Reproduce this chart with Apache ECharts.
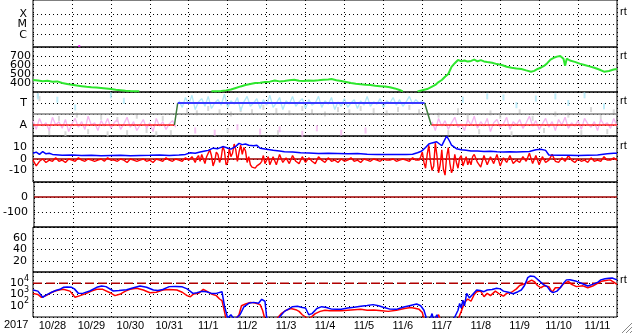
<!DOCTYPE html>
<html><head><meta charset="utf-8">
<script src="https://cdn.jsdelivr.net/npm/echarts@6/dist/echarts.min.js"></script>
<style>html,body{margin:0;padding:0;background:#fff}#c{width:633px;height:334px}</style>
</head><body><div id="c"></div>
<script>
// ---------- DATA (x = hours since 2017-10-28 00:00 UT) ----------
const dayLabels = ['10/28','10/29','10/30','10/31','11/1','11/2','11/3','11/4','11/5','11/6','11/7','11/8','11/9','11/10','11/11'];
const yearLabel = '2017';
const xmcLevels = [1.2, 2.2, 3.2];
const xmcNames = ['C', 'M', 'X'];
const xrayPoints = [[28.5, 0.1]];

// solar wind speed (km/s)
const speedData = [[0,433],[3,428],[6,420],[9,424],[12,415],[15,418],[18,400],[21,390],[24,380],[27,372],[30,365],[33,358],[36,352],[39,350],[42,345],[45,340],[48,333],[51,326],[54,320],[57,314],[60,311],[63,309],[65.5,307],[66,null],
[110,307],[113,309],[116,311],[119,318],[122,328],[125,345],[128,362],[131,378],[134,390],[137,400],[140,404],[143,410],[146,415],[149,428],[152,418],[155,422],[158,430],[161,437],[164,425],[167,422],[170,428],[173,426],[176,430],[179,435],[182,440],[184,444],[187,430],[190,422],[193,412],[196,400],[199,392],[202,385],[205,380],[208,378],[211,370],[214,365],[217,360],[220,352],[223,340],[226,322],[228,307],[229,null],
[237,307],[240,320],[243,333],[246,360],[248,378],[250,410],[252,433],[254,470],[256,500],[258,580],[260,620],[262,656],[264,640],[266,650],[268,638],[270,645],[272,660],[274,640],[276,655],[278,640],[280,633],[283,625],[286,610],[289,600],[292,580],[295,570],[298,562],[301,556],[304,540],[307,526],[309,535],[311,556],[313,570],[315,590],[317,620],[319,660],[321,680],[323,693],[325,700],[326,680],[327,670],[328,590],[329,670],[331,650],[334,635],[337,615],[340,600],[343,585],[346,570],[349,550],[352,526],[355,533],[358,550],[360,556]];

// IMF sector panel (levels: A=1, T=3)
const sectorTimes = [0, 87.2, 89.2, 241.4, 245.5, 360];
const sectorLevels = [1, 1, 3, 3, 1, 1];
const pinkStart1 = 0, pinkStart2 = 246, blueStart = 90, taStep = 2;
const pinkAway1 = [1.4,0.6,1.6,0.9,1.2,0.5,1.7,1.0,1.3,0.7,1.5,0.4,1.1,1.6,0.8,1.3,0.6,1.8,1.0,1.2,0.5,1.4,0.9,1.6,0.7,1.2,1.5,0.6,1.1,1.7,0.8,1.3,0.5,1.0,1.5,0.7,1.2,0.4,1.6,0.9,1.3,0.6,1.1,1.4,0.8];
const pinkAway2 = [1.3,0.5,1.6,0.9,1.4,0.6,1.2,1.7,0.8,1.1,0.5,1.5,1.0,1.8,0.7,1.3,0.9,1.6,0.4,1.2,1.5,0.8,1.1,1.7,0.6,1.3,1.0,1.5,0.7,1.2,1.8,0.9,1.4,0.6,1.1,1.6,0.8,1.3,0.5,1.5,1.0,1.7,0.7,1.2,0.9,1.4,0.6,1.6,1.1,0.8,1.3,0.5,1.5,1.0,1.2,0.7,1.6,0.9];
const blueToward = [3.2,2.6,3.5,2.9,3.7,2.4,3.1,3.4,2.7,3.6,2.5,3.0,3.3,2.8,3.8,2.6,3.2,2.9,3.5,2.3,3.1,3.6,2.7,3.0,3.4,2.5,3.3,2.8,3.7,2.6,3.0,3.5,2.4,3.2,2.9,3.6,2.7,3.1,3.4,2.5,3.3,2.8,3.0,3.6,2.6,3.2,2.9,3.5,2.4,3.1,2.7,3.4,2.6,3.0,3.3,2.5,3.2,2.8,3.6,2.7,3.1,2.9,3.4,2.6,3.2,3.0,3.5,2.8,3.3,2.7,3.1,3.6,2.9,3.3,3.0,3.2];
const grayDots = [[3,3.7],[4,3.4],[10,0.3],[16,1.6],[20,0.2],[27,1.9],[34,0.4],[42,1.7],[46,0.2],[52,1.5],[58,0.3],[64,1.8],[70,0.5],[76,0.2],[80,1.6],[85,0.3],
[95,2.3],[101,2.1],[108,2.5],[115,2.2],[120,0.5],[122,2.0],[128,2.4],[135,2.2],[142,2.6],[150,2.3],[151,0.3],[158,2.1],[166,2.5],[172,2.2],[180,2.0],[188,2.4],[195,2.2],[202,2.5],[210,2.3],[218,2.1],[225,2.4],[232,2.6],[238,2.2],
[250,1.9],[256,0.3],[262,2.3],[268,1.7],[275,0.4],[282,2.1],[288,1.8],[295,0.2],[300,2.2],[308,1.6],[315,0.5],[322,2.0],[330,1.9],[338,0.3],[344,2.4],[350,1.7],[354,0.4],[358,2.2]];
const blueSparse = [[3,3.6],[15,3.3],[26,2.6],[48,3.7],[56,3.2],[265,3.3],[280,3.6],[290,3.5],[298,2.8],[310,3.4],[322,3.6],[330,3.0],[340,3.7],[352,2.7]];
const pinkSparse = [[100,0.5],[112,0.3],[126,0.8],[140,0.4],[152,0.6],[166,0.2],[175,0.7],[190,0.3],[205,0.5]];

// IMF Bt (blue) and Bz (red), nT
const btData = [[0,5],[2,6],[4,4],[6,6.5],[8,4.5],[10,5],[12,4],[14,3.8],[18,3.2],[24,3.5],[30,3],[36,3.3],[42,2.8],[48,3],[54,3.2],[60,2.8],[66,3],[72,3.2],[78,3.5],[84,3],[90,3.4],[94,4],[97,5.5],[100,5],[103,6],[106,7],[108,7.5],[111,9.4],[114,9],[117,10.8],[119,10],[122,8.6],[125,11],[127,13.6],[129,12.5],[131,13],[133,12],[136,11.5],[138,12],[140,9.4],[143,8.6],[146,8],[148,7.6],[152,7],[155,6.4],[160,6],[165,5.5],[170,5.2],[176,4.8],[182,5],[188,4.8],[194,4.5],[200,4.8],[206,4.2],[212,4],[218,3.9],[224,4],[230,3.9],[234,4.2],[237,5.5],[239,6.5],[240.5,8],[242,10],[244,13],[246,14],[248.8,15],[250,16],[252,11.5],[253,14.5],[255,20],[256,19],[257,15],[258,12],[259,11],[261,9],[264,8],[267,7.6],[270,7],[274,6.9],[278,6.5],[282,6.8],[286,6.2],[290,6],[294,6.2],[298,6],[302,6.3],[306,6.5],[310,8],[313,8.5],[316,7.5],[318,3.5],[324,3.2],[330,3.2],[336,3],[342,3.3],[348,3.5],[354,4.5],[358,5],[360,5]];
// Bz pieces: [start hour, step hours, values]
const bzQuiet1 = [0, 2, [-1,-6,-2,0,-3,-1,-2,1,-2,-1, -3,0,-1,-2,1,-1,-2,0,-1,-2, -1,0,-2,1,-1,-1,-2,0,-1,-3, 0,-1,-2,-1,0,-2,-1,-3,0,-1, -2,1,-1,-2,0,-1,-2,1,-1,2]];
const bzActive1 = [100, 1, [-3,1,3,-2,4,0,-4,2,5,8, 3,-6,-2,6,4,-3,1,11,7,-5, -3,9,2,5,13,8,-2,6,12,4, 10,7,-3,2,-5,-7,-8,-8,-6,-7, -4,-2,3,-4,-1,2,-5]];
const bzQuiet2 = [148, 2, [2,-5,4,-3,1,-4,3,-2,-4,2, -3,1,-2,-4,2,-1,-3,1,-2,-1, -3,0,-2,-1,1,-2,-1,-3,0,-1, -2,0,-1,-2,0,-1,-1,0,-2,-1, 0,-1,-2,1,-1]];
const bzActive2 = [238, 1, [-1,2,6,-3,-8,4,12,-2,-10,-6, 14,3,-12,-5,8,-9,-14,2,10,-4, -12,-8,4,-3,-8,1,3,-6,-2,2, -5,-1,-5,2,4]];
const bzQuiet3 = [274, 2, [-3,-7,3,-5,2,-4,4,-6,1,-3, 3,-4,-1,-3,2,-2,5,-4,3,-5, 2,-3,-1,4,-2,-3,1,-2,3,-1, -3,0,-2,-1,-3,1,-2,-1,-2,2, -1,-1,1,-1]];
const zeroLine = [[0,0],[360,0]];
const fluxThreshold = [[0,1e4],[360,1e4]];

// electron flux, log10 values
const fluxBlueLog = [[0,3.4],[3,3.3],[6,2.75],[8,2.95],[11.5,3.2],[14,3.35],[16.6,3.46],[18.7,3.64],[21,3.66],[23.8,3.64],[25.5,3.5],[28,3.1],[31,3.12],[35,3.31],[39.3,3.64],[42.3,3.75],[45,3.7],[49.5,3.31],[53,3.36],[57.7,3.43],[62,3.6],[66,3.75],[70,3.64],[74.2,3.4],[77,3.35],[80,3.45],[84,3.7],[88,3.72],[92,3.68],[95,3.5],[98.6,3.1],[101,3.15],[104,3.28],[107,3.25],[110,3.1],[113,3.1],[116.5,3.25],[118,2.0],[120,0.9],[122,1.2],[124,0.8],[126,1.0],[127.6,1.2],[130,1.9],[133,2.22],[136,2.3],[139,2.22],[141,2.57],[143,2.4],[144,1.0],[146,0.5],[150,0.5],[152,1.0],[155,1.5],[158,1.75],[160,1.92],[163,1.95],[166,1.85],[168,1.8],[170,1.2],[172,1.3],[175,1.75],[178,1.92],[181,1.85],[184,1.7],[187,1.68],[190,1.68],[194,1.8],[198,1.86],[202,1.95],[206,2.02],[209.6,2.1],[213,2.0],[216,1.86],[220,1.7],[224,1.68],[228,1.86],[232,2.0],[236.5,2.16],[239,2.0],[241,1.6],[242.7,0.8],[245,0.9],[246,1.3],[247,0.7],[249,1.2],[250,0.6],[254,0.5],[258,0.6],[260,1.0],[262,1.6],[263,2.2],[264,1.8],[265,2.5],[266,2.0],[267.3,3.1],[269,2.7],[271,3.0],[273.5,3.4],[275.6,3.35],[278,3.25],[280,3.4],[283,3.45],[285.8,3.55],[288,3.5],[290,3.3],[293,3.2],[296,3.07],[299,3.25],[301,3.4],[303,3.8],[305,4.5],[306.4,4.64],[309,4.6],[311.4,4.3],[314.5,3.9],[317,3.7],[319,3.3],[320.6,3.17],[323,3.3],[325,3.6],[326.7,3.95],[328.8,4.3],[331,4.32],[333,4.25],[335,4.17],[338,4.0],[342,3.76],[345,3.9],[348.3,4.1],[350,4.3],[352.6,4.4],[355,4.45],[357,4.46],[360,4.3]];
const fluxRedLog = [[0,3.1],[3,3.0],[5.2,2.75],[8,2.9],[11,3.15],[13.6,3.31],[16,3.4],[18.7,3.46],[22.8,3.3],[25.9,2.75],[29,2.9],[33,3.1],[36,3.3],[39.3,3.46],[43,3.46],[47.5,3.16],[50.5,2.9],[54,3.05],[57,3.3],[59.8,3.46],[63.9,3.55],[68,3.4],[72.1,3.16],[76,3.2],[80,3.4],[84,3.45],[88.7,3.4],[92,3.2],[95,2.9],[97,2.8],[99,3.05],[102,3.1],[105,3.46],[107,3.3],[110,3.05],[113,2.9],[115,2.6],[116.5,2.45],[118,1.5],[119,0.8],[125,0.8],[127,1.2],[128.5,2.0],[131,2.15],[134,2.3],[137,2.25],[140,2.1],[141.5,1.6],[143,0.8],[150,0.8],[153,1.3],[156,1.6],[159,1.75],[162,1.65],[164,1.5],[166,1.2],[168,1.0],[170,0.8],[174,1.3],[177,1.5],[180,1.6],[183,1.56],[186,1.58],[190,1.56],[196,1.62],[202,1.68],[206,1.6],[210,1.62],[215,1.56],[219,1.5],[224,1.6],[229,1.75],[233,1.85],[236,1.75],[238,1.68],[240,1.4],[241,0.8],[248,0.8],[250,1.2],[251,0.8],[262,0.8],[264,1.5],[266,2.3],[268,2.6],[270,2.4],[272,3.0],[273.5,3.25],[276,3.3],[278,2.8],[280,3.1],[282,2.9],[285,3.3],[288,3.0],[290,2.85],[292,3.1],[295,3.2],[298,3.5],[300,3.8],[303,3.95],[305,4.1],[307.4,4.28],[309,4.15],[311,3.8],[313,3.6],[315,3.77],[318,3.7],[320,3.2],[322,3.6],[325,3.6],[327,3.95],[330,4.17],[332,3.9],[335,3.7],[339,3.77],[342,3.6],[345,3.75],[348,4.0],[350.5,4.17],[353,4.25],[355.7,4.3],[358,4.1],[360,3.9]];

// ---------- CHART ----------
const chart = echarts.init(document.getElementById('c'), null, {renderer: 'canvas'});
const gridTops = [-1, 47, 92, 136, 182, 227, 272];
const gridHeights = [48, 45, 44, 46, 45, 45, 45];
const dotted = {color: '#000', type: [1, 3], width: 1};
const yFont = 'DejaVu Sans';

const grids = gridTops.map((t, i) => ({left: 33, right: 16, top: t, height: gridHeights[i], show: true, borderColor: '#000', borderWidth: 1, backgroundColor: 'rgba(0,0,0,0)'}));
const xAxes = gridTops.map((t, i) => ({type: 'value', gridIndex: i, min: 0, max: 360, interval: 24, position: 'top',
  axisLine: {show: false}, axisTick: {show: false}, axisLabel: {show: false}, splitLine: {show: true, lineStyle: dotted}}));
xAxes.push({type: 'category', gridIndex: 6, data: dayLabels, position: 'bottom', boundaryGap: true,
  axisLine: {show: false}, axisTick: {show: false}, splitLine: {show: false},
  axisLabel: {interval: 0, margin: 3, color: '#000', fontFamily: 'Liberation Sans', fontSize: 11}});

function yAx(i, o, lbl) {
  return Object.assign({type: 'value', gridIndex: i, axisLine: {show: false}, axisTick: {show: false},
    splitLine: {show: true, lineStyle: dotted}},
    o, {axisLabel: Object.assign({color: '#000', fontFamily: yFont, fontSize: 11, margin: 6}, lbl)});
}
const yAxes = [
  yAx(0, {min: 0, max: 4.6, interval: 0.2, splitLine: {show: false}}, {margin: 6,
    formatter: v => { const k = xmcLevels.findIndex(l => Math.abs(l - v) < 0.01); return k >= 0 ? xmcNames[k] : ''; }}),
  yAx(1, {min: 300, max: 800, interval: 100}, {showMinLabel: false, showMaxLabel: false, margin: 2}),
  yAx(2, {min: 0, max: 4, interval: 1}, {formatter: v => (v === 1 ? 'A' : v === 3 ? 'T' : '')}),
  yAx(3, {min: -20, max: 20, interval: 10}, {showMinLabel: false, showMaxLabel: false}),
  yAx(4, {min: -200, max: 100, interval: 100}, {showMinLabel: false, showMaxLabel: false}),
  yAx(5, {min: 0, max: 80, interval: 20}, {showMinLabel: false, showMaxLabel: false}),
  yAx(6, {type: 'log', logBase: 10, min: 10, max: 100000}, {showMinLabel: false, showMaxLabel: false, margin: 4,
    formatter: v => '{b|10}{s|' + Math.round(Math.log10(v)) + '}',
    rich: {b: {fontSize: 11, fontFamily: yFont, color: '#000', verticalAlign: 'bottom', lineHeight: 11},
           s: {fontSize: 8, fontFamily: yFont, color: '#000', verticalAlign: 'bottom', lineHeight: 8, padding: [0, 0, 6, 0]}}})
];

function line(gi, data, color, width, extra) {
  return Object.assign({type: 'line', xAxisIndex: gi, yAxisIndex: gi, data: data, showSymbol: false, symbol: 'none',
    connectNulls: false, silent: true, lineStyle: {color: color, width: width}, itemStyle: {color: color}}, extra || {});
}
function dots(gi, data, color, size) {
  return {type: 'scatter', xAxisIndex: gi, yAxisIndex: gi, data: data, symbol: 'rect', symbolSize: size, silent: true,
    itemStyle: {color: color}};
}
const stepPairs = (start, step, vals) => vals.map((v, i) => [start + i * step, v]);
const sectorPts = sectorTimes.map((t, i) => [t, sectorLevels[i]]);
const pinkLine = stepPairs(pinkStart1, taStep, pinkAway1).concat([[89, null]], stepPairs(pinkStart2, taStep, pinkAway2));
const blueLine = stepPairs(blueStart, taStep, blueToward);
const bzLine = [bzQuiet1, bzActive1, bzQuiet2, bzActive2, bzQuiet3].reduce((acc, p) => acc.concat(stepPairs(p[0], p[1], p[2])), []);
const toFlux = arr => arr.map(p => [p[0], Math.pow(10, p[1])]);

const series = [
  Object.assign(dots(0, xrayPoints, '#ff00ff', 2), {markLine: {silent: true, symbol: 'none', label: {show: false},
    lineStyle: dotted, data: xmcLevels.map(l => ({yAxis: l}))}}),
  line(1, speedData, '#2ee62e', 2),
  dots(2, grayDots, '#cfcfcf', [2, 5]),
  line(2, pinkLine, '#f5b5f0', 1.3),
  line(2, blueLine, '#b0e8f8', 1.3),
  dots(2, blueSparse, '#b0e8f8', [2, 6]),
  dots(2, pinkSparse, '#f5b5f0', [2, 6]),
  line(2, [[0, 2], [360, 2]], '#808080', 1.5),
  line(2, [sectorPts[0], sectorPts[1], [88, null], sectorPts[4], sectorPts[5]], '#ff2020', 1.5),
  line(2, [sectorPts[1], sectorPts[2], [160, null], sectorPts[3], sectorPts[4]], '#3c7a3c', 1.5),
  line(2, [sectorPts[2], sectorPts[3]], '#3a3aff', 2),
  line(3, zeroLine, '#a00000', 1.5),
  line(3, bzLine, '#ff0000', 1.4),
  line(3, btData, '#0000ff', 1.5),
  line(4, zeroLine, '#a00000', 1.5),
  line(6, fluxThreshold, '#b00000', 1.5, {lineStyle: {color: '#b00000', width: 1.5, type: [9, 4]}}),
  line(6, toFlux(fluxRedLog), '#ff0000', 1.5),
  line(6, toFlux(fluxBlueLog), '#0000ff', 1.5)
];

const rtY = [12, 56, 101, 146, 280];
const graphic = [{type: 'text', left: 4, top: 319, style: {text: yearLabel, font: '11px "Liberation Sans"', fill: '#000'}}]
  .concat(rtY.map(y => ({type: 'text', x: 620, y: y, style: {text: 'rt', font: '11px "Liberation Sans"', fill: '#000', verticalAlign: 'middle'}})))
  .concat([[622, 333, 632, 323], [626, 333, 632, 327], [630, 333, 632, 331]].map(s => ({type: 'line', shape: {x1: s[0], y1: s[1], x2: s[2], y2: s[3]}, style: {stroke: '#888', lineWidth: 1}})));

chart.setOption({
  animation: false,
  backgroundColor: '#fff',
  textStyle: {fontFamily: 'Liberation Sans'},
  grid: grids, xAxis: xAxes, yAxis: yAxes, series: series, graphic: graphic
});
</script></body></html>
